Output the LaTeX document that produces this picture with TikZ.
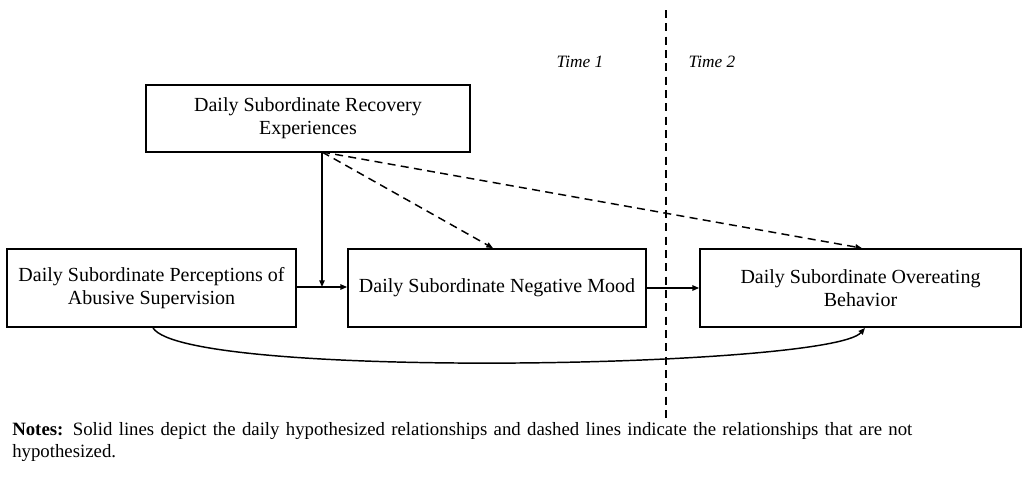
\documentclass[tikz,border=0pt]{standalone}
\usepackage{fontspec}
\setmainfont{Liberation Serif}
\usetikzlibrary{arrows.meta}
\begin{document}
\begin{tikzpicture}[x=0.75pt,y=-0.75pt,
  box/.style={draw,line width=1.3pt,inner sep=0pt,align=center,font=\fontsize{15}{17.5}\selectfont},
  arr/.style={line width=1.1pt,-{Triangle[length=5pt,width=4pt]}},
  darr/.style={line width=1.1pt,dash pattern=on 6pt off 4pt,-{Triangle[length=5pt,width=4pt]}},
  lab/.style={font=\fontsize{13}{15}\selectfont\itshape}]
\useasboundingbox (0,0) rectangle (1028,476);
\node[box,minimum width=324*0.75pt,minimum height=67*0.75pt] (rec) at (308,118.5) {Daily Subordinate Recovery\\Experiences};
\node[box,minimum width=289*0.75pt,minimum height=78*0.75pt] (per) at (151.5,288) {Daily Subordinate Perceptions of\\Abusive Supervision};
\node[box,minimum width=298*0.75pt,minimum height=78*0.75pt] (mood) at (497,288) {Daily Subordinate Negative Mood};
\node[box,minimum width=321*0.75pt,minimum height=78*0.75pt] (over) at (860.5,288) {Daily Subordinate Overeating\\Behavior};
\node[lab] (t1) at (580,62) {Time 1};
\node[lab] (t2) at (712,62) {Time 2};
\coordinate (top) at (666,10);
\coordinate (bot) at (666,422);
\draw[line width=1.1pt,dash pattern=on 6pt off 4pt] (top) -- (bot);
\coordinate (rs) at (322,152);
\coordinate (j) at (322,287);
\draw[arr] (per.east |- j) -- (mood.west |- j);
\draw[arr] (rs) -- (j);
\draw[darr] (rs) -- (mood.north -| 493,0);
\draw[darr] (rs) -- (over.north -| 862,0);
\draw[arr] (mood.east) -- (over.west);
\draw[arr] (per.south -| 153,0) .. controls (185,380) and (830,368) .. (over.south -| 865,0);
\node[anchor=north west,align=left,text width=930*0.75pt,font=\fontsize{14.1}{16.5}\selectfont,inner sep=0pt] (notes) at (12,422) {\textbf{Notes:} Solid lines depict the daily hypothesized relationships and dashed lines indicate the relationships that are not hypothesized.};
\end{tikzpicture}
\end{document}
